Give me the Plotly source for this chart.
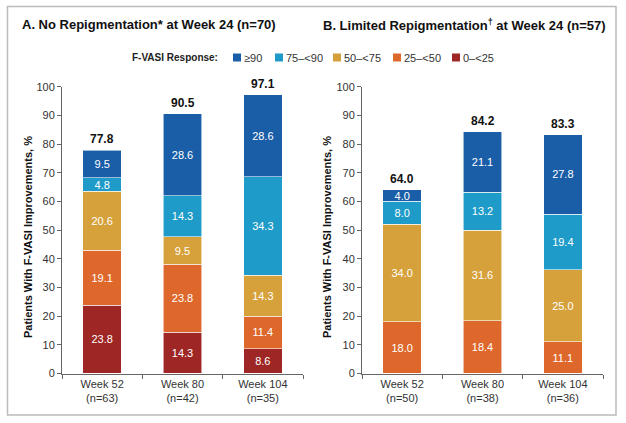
import plotly.graph_objects as go

# === dados ===
weeks_a = ["Week 52<br>(n=63)", "Week 80<br>(n=42)", "Week 104<br>(n=35)"]
weeks_b = ["Week 52<br>(n=50)", "Week 80<br>(n=38)", "Week 104<br>(n=36)"]

categories = ["0–<25", "25–<50", "50–<75", "75–<90", "≥90"]
colors = ["#9e2624", "#de682c", "#d6a13b", "#1e9bc8", "#1a5ea8"]

# painel A: sem repigmentação na semana 24
a_0_25 = [23.8, 14.3, 8.6]
a_25_50 = [19.1, 23.8, 11.4]
a_50_75 = [20.6, 9.5, 14.3]
a_75_90 = [4.8, 14.3, 34.3]
a_ge90 = [9.5, 28.6, 28.6]
totals_a = [77.8, 90.5, 97.1]

# painel B: repigmentação limitada na semana 24
b_0_25 = [0, 0, 0]
b_25_50 = [18.0, 18.4, 11.1]
b_50_75 = [34.0, 31.6, 25.0]
b_75_90 = [8.0, 13.2, 19.4]
b_ge90 = [4.0, 21.1, 27.8]
totals_b = [64.0, 84.2, 83.3]

FONT = "Arial, Liberation Sans, sans-serif"
W, H = 626, 423


def px_x(p):
    return p / W


def px_y(p):
    return 1 - p / H


fig = go.Figure()

series_a = [a_0_25, a_25_50, a_50_75, a_75_90, a_ge90]
series_b = [b_0_25, b_25_50, b_50_75, b_75_90, b_ge90]

for weeks, series, xa, ya in [(weeks_a, series_a, "x", "y"), (weeks_b, series_b, "x2", "y2")]:
    for cat, col, vals in zip(categories, colors, series):
        if not any(vals):
            continue  # categoria sem pacientes neste painel
        fig.add_trace(go.Bar(
            x=weeks, y=vals, name=cat, xaxis=xa, yaxis=ya,
            marker=dict(color=col, line=dict(color="rgba(255,255,255,0.7)", width=0.8)),
            width=0.48,
            text=[f"{v:.1f}" for v in vals],
            textposition="inside", insidetextanchor="middle",
            constraintext="none",
            textfont=dict(color="white", size=11, family=FONT),
            showlegend=False, hoverinfo="skip",
        ))

# totais acima das barras
for weeks, totals, xa, ya in [(weeks_a, totals_a, "x", "y"), (weeks_b, totals_b, "x2", "y2")]:
    for wk, t in zip(weeks, totals):
        fig.add_annotation(x=wk, y=t, xref=xa, yref=ya, text=f"<b>{t:.1f}</b>",
                           showarrow=False, yanchor="bottom", yshift=2,
                           font=dict(size=12, color="#111", family=FONT))

yaxis_style = dict(range=[0, 100], dtick=10, showgrid=False, zeroline=False,
                   showline=True, linecolor="#666", linewidth=1, automargin=False,
                   ticks="outside", ticklen=4, tickcolor="#666",
                   tickfont=dict(size=11, color="#333", family=FONT))
xaxis_style = dict(showgrid=False, showline=True, linecolor="#666", linewidth=1,
                   automargin=False,
                   ticks="outside", ticklen=4, tickcolor="#666", tickson="boundaries",
                   tickfont=dict(size=11, color="#333", family=FONT))

ydom = [px_y(373.5), px_y(86.7)]
fig.update_layout(
    width=W, height=H,
    margin=dict(l=0, r=0, t=0, b=0, autoexpand=False),
    paper_bgcolor="white", plot_bgcolor="white",
    barmode="stack", showlegend=False,
    font=dict(family=FONT, color="#222"),
    xaxis=dict(domain=[px_x(62), px_x(303)], anchor="y", **xaxis_style),
    yaxis=dict(domain=ydom, anchor="x", **yaxis_style),
    xaxis2=dict(domain=[px_x(362), px_x(603)], anchor="y2", **xaxis_style),
    yaxis2=dict(domain=ydom, anchor="x2", **yaxis_style),
)


def note(x, y, text, size=11, color="#333", xanchor="center", angle=0):
    fig.add_annotation(x=px_x(x), y=px_y(y), xref="paper", yref="paper",
                       xanchor=xanchor, yanchor="middle", text=text, textangle=angle,
                       showarrow=False, font=dict(size=size, color=color, family=FONT))


# legenda desenhada à mão
LEG_Y = 57.5
note(220, LEG_Y, "<b>F-VASI Response:</b>", size=10, color="#222", xanchor="right")
legend_x = [233, 275, 333, 393, 452]
for lx, cat, col in zip(legend_x, categories[::-1], colors[::-1]):
    fig.add_shape(type="rect", xref="paper", yref="paper",
                  x0=px_x(lx), x1=px_x(lx + 8), y0=px_y(LEG_Y + 4), y1=px_y(LEG_Y - 4),
                  fillcolor=col, line=dict(width=0))
    note(lx + 9, LEG_Y, cat, xanchor="left")

# títulos dos painéis
note(20, 25, "<b>A. No Repigmentation* at Week 24 (n=70)</b>", size=13, color="#111", xanchor="left")
note(321, 25, "<b>B. Limited Repigmentation<sup>†</sup> at Week 24 (n=57)</b>", size=13,
     color="#111", xanchor="left")

# títulos dos eixos y
for xp in [28, 327]:
    note(xp, 237, "<b>Patients With F-VASI Improvements, %</b>", size=11, color="#111", angle=-90)

# moldura externa
fig.add_shape(type="rect", xref="paper", yref="paper",
              x0=px_x(7.5), x1=px_x(616), y0=px_y(415), y1=px_y(6.5),
              line=dict(color="#bbbbbb", width=1.5))

# o navegador põe 8px de margem no body; zera para alinhar a figura à janela
fig.write_html("out.html", config={"displayModeBar": False},
               post_script="document.body.style.margin = '0';")
